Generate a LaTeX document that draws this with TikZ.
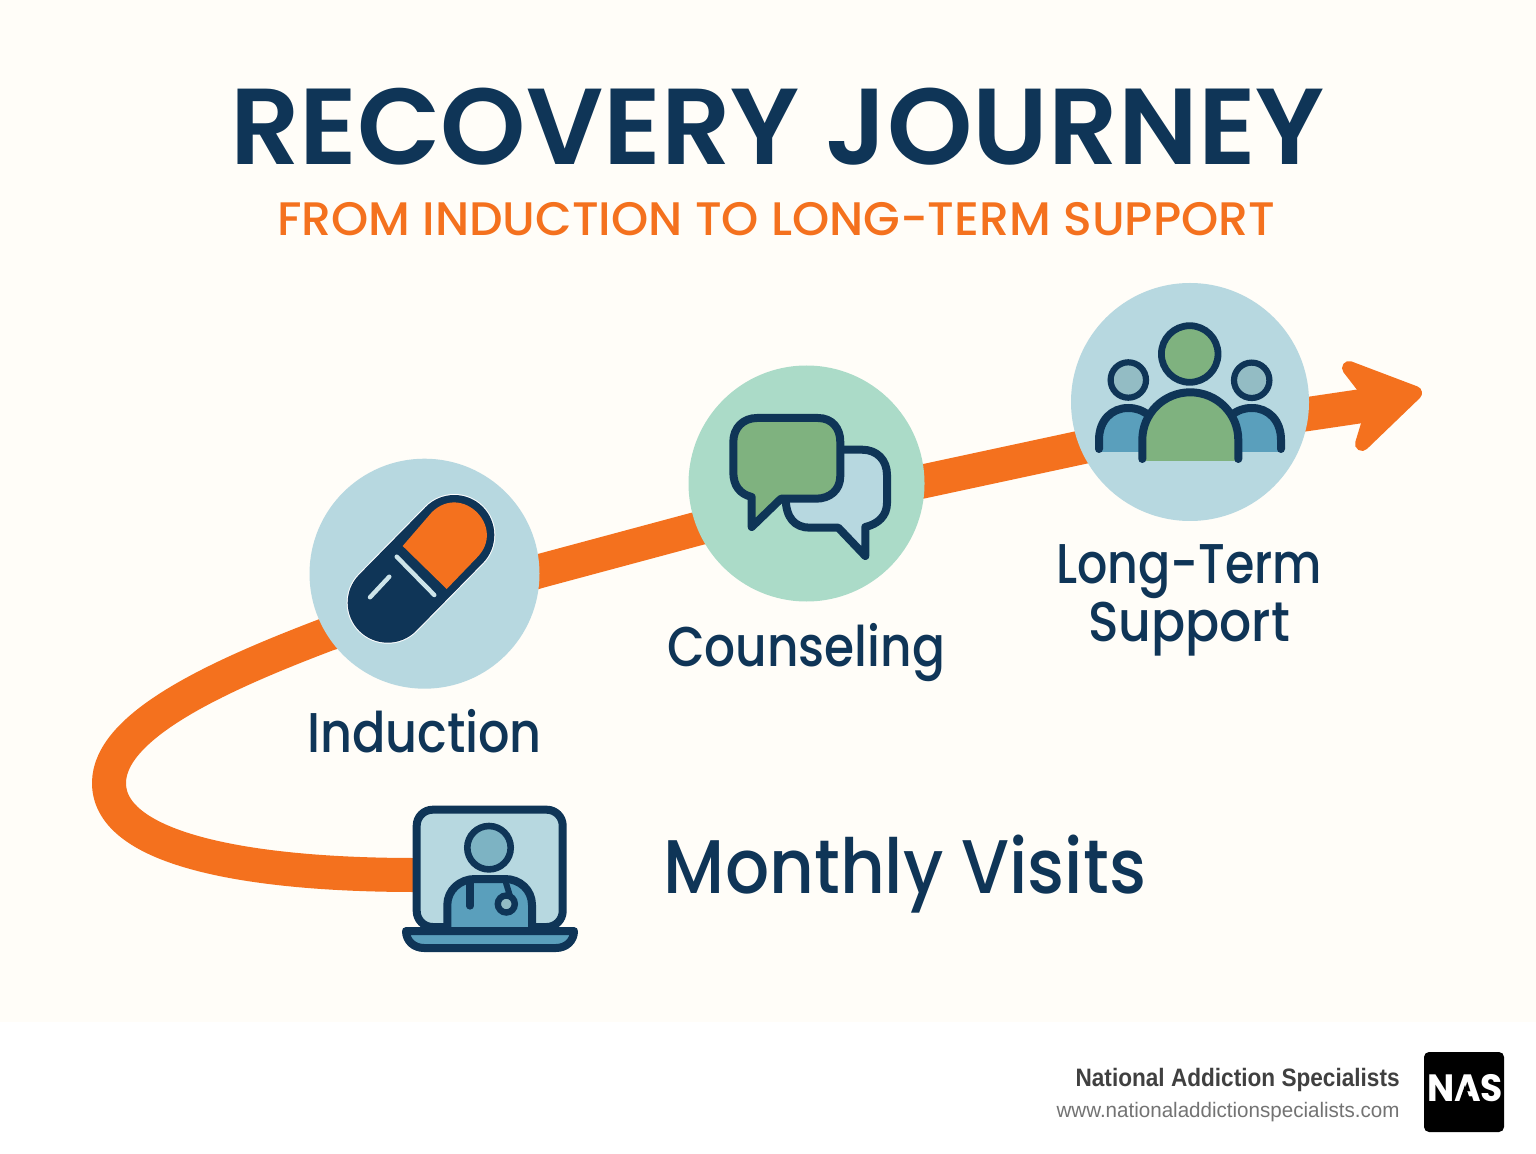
\documentclass[tikz,border=0pt]{standalone}
\usepackage{fontspec}
\setmainfont{Poppins}
\newfontfamily\pmed{Poppins Medium}
\newfontfamily\psemi{Poppins SemiBold}
\newfontfamily\pbold{Poppins Bold}
\newfontfamily\lib{Liberation Sans}
\newcommand{\fitw}[2]{\resizebox{#1}{\height}{#2}}
\definecolor{bgcream}{HTML}{FFFDF8}
\definecolor{navy}{HTML}{0F3557}
\definecolor{orng}{HTML}{F4711E}
\definecolor{ltblue}{HTML}{B7D8E0}
\definecolor{mint}{HTML}{ABDBC8}
\definecolor{leaf}{HTML}{7FB27F}
\definecolor{midblue}{HTML}{5A9FBC}
\definecolor{headblue}{HTML}{93BCC4}
\definecolor{dochead}{HTML}{7DB3C3}
\tikzset{
  stagecircle/.style={circle,inner sep=0pt,outer sep=0pt},
  icon/.style={draw=navy,line width=4pt,line join=round,line cap=round},
  band/.style={draw=orng,line width=17pt,line join=round},
  lab/.style={anchor=base,text=navy,inner sep=0pt,align=center},
}
\begin{document}
\begin{tikzpicture}[x=0.5pt,y=-0.5pt]
\useasboundingbox (0,0) rectangle (1536,1154);
\fill[white] (0,0) rectangle (1536,1154);
\fill[bgcream] (0,0) rectangle (1536,1022);
% arrow path
\coordinate (t0) at (415,875);
\coordinate (t1) at (109,783);
\coordinate (t2) at (328,634);
\coordinate (t3) at (540,571);
\coordinate (t4) at (700,528);
\coordinate (t5) at (925,481);
\coordinate (t6) at (1100,443.4);
\coordinate (t7) at (1308,414);
\coordinate (t8) at (1362,406);
\draw[band] (t0) .. controls (250,875) and (109,850) .. (t1) .. controls (109,725) and (220,675) .. (t2) -- (t3) -- (t4) -- (t5) -- (t6) -- (t7) -- (t8);
\draw[orng,fill=orng,line width=7pt,line join=round] (1349,368) -- (1415,393) -- (1362,444) -- (1369,421) -- (1366,390) -- cycle;
% circles
\node[stagecircle,fill=ltblue,minimum size=115pt] (c1) at (424.5,573.7) {};
\node[stagecircle,fill=mint,minimum size=118pt] (c2) at (806.5,483.5) {};
\node[stagecircle,fill=ltblue,minimum size=119pt] (c3) at (1190,402) {};
% pill
\draw[white,line width=41pt,line cap=round] (387.7,602.7) -- (454.3,535);
\draw[navy,line width=40pt,line cap=round] (387.7,602.7) -- (454.3,535);
\fill[orng] (402.7,546) -- (431.7,512.4) .. controls (461.9,482.2) and (507.1,527.4) .. (476.9,557.6) -- (446.7,589) -- cycle;
\draw[ltblue!70!white,line width=2.2pt,line cap=round] (396.7,556.7) -- (434.3,595);
\draw[ltblue!70!white,line width=2.2pt,line cap=round] (389.3,576.7) -- (370,597.3);
% chat bubbles
\draw[icon,fill=ltblue] (840,449.7) -- (862,449.7) .. controls (877,449.7) and (887,460) .. (887,475) -- (887,503) .. controls (887,516) and (878,524) .. (865.3,527) -- (865.3,556) -- (838.3,527.7) -- (810,527.7) .. controls (795,527.7) and (785.7,518) .. (785.7,498) -- (785.7,470) -- cycle;
\draw[icon,fill=leaf] (757,418) -- (818,418) .. controls (832,418) and (840.3,428) .. (840.3,442) -- (840.3,476) .. controls (840.3,490) and (830,498.7) .. (816,498.7) -- (781,498.7) -- (751.7,527) -- (751.7,497) .. controls (740,494) and (733.3,486) .. (733.3,472) -- (733.3,442) .. controls (733.3,428) and (743,418) .. (757,418) -- cycle;
% people
\fill[midblue] (1099,452) -- (1099,440) .. controls (1099,420) and (1112,408) .. (1128,408) .. controls (1136,408) and (1142,410) .. (1150,416) -- (1150,452) -- cycle;
\draw[icon] (1099,449) -- (1099,440) .. controls (1099,420) and (1112,408) .. (1128,408) .. controls (1136,408) and (1142,410) .. (1150,416);
\fill[midblue] (1281,452) -- (1281,440) .. controls (1281,420) and (1268,408) .. (1252,408) .. controls (1244,408) and (1238,410) .. (1230,416) -- (1230,452) -- cycle;
\draw[icon] (1281,449) -- (1281,440) .. controls (1281,420) and (1268,408) .. (1252,408) .. controls (1244,408) and (1238,410) .. (1230,416);
\fill[leaf] (1142.3,461) -- (1142.3,440) .. controls (1142.3,413.5) and (1163.8,392.3) .. (1190.3,392.3) .. controls (1216.8,392.3) and (1238.3,413.5) .. (1238.3,440) -- (1238.3,461) -- cycle;
\draw[icon] (1142.3,459) -- (1142.3,440) .. controls (1142.3,413.5) and (1163.8,392.3) .. (1190.3,392.3) .. controls (1216.8,392.3) and (1238.3,413.5) .. (1238.3,440) -- (1238.3,459);
\node[stagecircle,draw=navy,line width=3.1pt,fill=headblue,minimum size=17.7pt] (hl) at (1128.3,380) {};
\node[stagecircle,draw=navy,line width=3.1pt,fill=headblue,minimum size=17.7pt] (hr) at (1251.7,380.3) {};
\node[stagecircle,draw=navy,line width=3.4pt,fill=leaf,minimum size=28.3pt] (hc) at (1189.7,354) {};
% laptop
\draw[icon,fill=ltblue,rounded corners=8pt] (416.7,927) -- (416.7,809.7) -- (562.7,809.7) -- (562.7,927) -- cycle;
\fill[midblue] (447.3,928) -- (447.3,905) .. controls (447.3,890) and (460,879) .. (475,879) -- (505,879) .. controls (520,879) and (532,890) .. (532,905) -- (532,928) -- cycle;
\draw[icon] (447.3,927) -- (447.3,905) .. controls (447.3,890) and (460,879) .. (475,879) -- (505,879) .. controls (520,879) and (532,890) .. (532,905) -- (532,927);
\draw[draw=navy,line width=3.6pt,line cap=round] (470,883) -- (470,906);
\draw[draw=navy,line width=3pt,line cap=round] (506,883) -- (510,896);
\node[stagecircle,draw=navy,line width=3.2pt,fill=headblue,minimum size=8.5pt] (steth) at (506.3,904) {};
\node[stagecircle,draw=navy,line width=3.3pt,fill=dochead,minimum size=21.7pt] (dh) at (489,847.7) {};
\draw[icon,fill=midblue] (406,931) -- (574,931) .. controls (574,941) and (566,948) .. (556,948) -- (424,948) .. controls (414,948) and (406,941) .. (406,931) -- cycle;
% text
\node[lab] (title) at (777.5,165) {\fitw{547.5pt}{\psemi\fontsize{54}{54}\selectfont RECOVERY JOURNEY}};
\node[lab,text=orng] (sub) at (776,236) {\fitw{499pt}{\pmed\fontsize{23.5}{24}\selectfont FROM INDUCTION TO LONG-TERM SUPPORT}};
\node[lab] (l1) at (424.5,752) {\fitw{117.5pt}{\pmed\fontsize{28}{28}\selectfont Induction}};
\node[lab] (l2) at (806,666) {\fitw{139pt}{\pmed\fontsize{28}{28}\selectfont Counseling}};
\node[lab] (l3) at (1189,583) {\fitw{133pt}{\pmed\fontsize{28}{28}\selectfont Long-Term}};
\node[lab] (l3b) at (1189,641) {\fitw{101pt}{\pmed\fontsize{28}{28}\selectfont Support}};
\node[lab] (l4) at (905,893) {\fitw{241pt}{\pmed\fontsize{38}{38}\selectfont Monthly Visits}};
\node[anchor=base east,inner sep=0pt,text=black!75] (f1) at (1400,1086) {\fitw{162pt}{\lib\bfseries\fontsize{12.6}{13}\selectfont National Addiction Specialists}};
\node[anchor=base east,inner sep=0pt,text=black!55] (f2) at (1400,1117) {\fitw{171.5pt}{\lib\fontsize{10.5}{11}\selectfont www.nationaladdictionspecialists.com}};
\fill[black,rounded corners=2.5pt] (1424,1052) rectangle (1504,1132);
\node[anchor=base,inner sep=0pt,text=white] (nas) at (1465,1101) {\fitw{38pt}{\pbold\fontsize{19}{19}\selectfont NAS}};
\fill[black] (1465,1085) -- (1459,1102) -- (1471,1102) -- cycle;
\end{tikzpicture}
\end{document}
